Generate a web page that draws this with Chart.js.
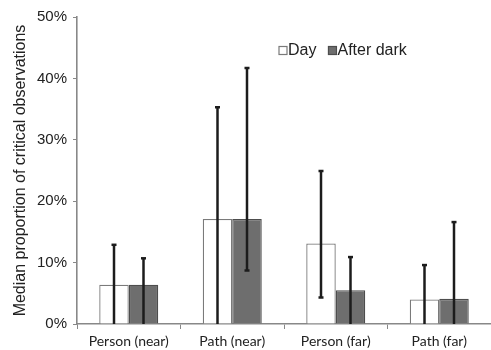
<!DOCTYPE html>
<html>
<head>
<meta charset="utf-8">
<script src="https://cdn.jsdelivr.net/npm/chart.js@4.4.1/dist/chart.umd.min.js"></script>
<style>
  html, body { margin: 0; padding: 0; background: #fff; }
  #wrap { width: 491px; height: 350px; position: relative; }
</style>
</head>
<body>
<div id="wrap"><canvas id="medianChart"></canvas></div>
<script>
// categories and values (percent)
const categories = ["Person (near)", "Path (near)", "Person (far)", "Path (far)"];
const dayMedian = [6.4, 17.1, 13.1, 4.0];
const darkMedian = [6.4, 17.1, 5.5, 4.1];
const dayLow = [0, 0, 4.3, 0];
const dayHigh = [12.9, 35.3, 24.9, 9.6];
const darkLow = [0, 8.7, 0, 0];
const darkHigh = [10.7, 41.7, 10.9, 16.6];
const yTicks = [0, 10, 20, 30, 40, 50];

const errorRanges = [
    { low: dayLow, high: dayHigh },
    { low: darkLow, high: darkHigh }
];

// vertical error bars with small caps
const errorBars = {
    id: "errorBars",
    afterDatasetsDraw(chart) {
        const ctx = chart.ctx;
        const y = chart.scales.y;
        ctx.save();
        ctx.strokeStyle = "#1c1c1c";
        ctx.lineWidth = 2.5;
        chart.data.datasets.forEach((ds, i) => {
            const meta = chart.getDatasetMeta(i);
            meta.data.forEach((bar, j) => {
                const top = y.getPixelForValue(errorRanges[i].high[j]);
                const bottom = y.getPixelForValue(errorRanges[i].low[j]);
                ctx.beginPath();
                ctx.moveTo(bar.x, top);
                ctx.lineTo(bar.x, bottom);
                ctx.stroke();
                ctx.beginPath();
                ctx.moveTo(bar.x - 2.5, top);
                ctx.lineTo(bar.x + 2.5, top);
                if (errorRanges[i].low[j] > 0) {
                    ctx.moveTo(bar.x - 2.5, bottom);
                    ctx.lineTo(bar.x + 2.5, bottom);
                }
                ctx.stroke();
            });
        });
        ctx.restore();
    }
};

// legend drawn inside the plot area
const innerLegend = {
    id: "innerLegend",
    afterDraw(chart) {
        const ctx = chart.ctx;
        ctx.save();
        ctx.font = "16px 'Liberation Sans', Arial, sans-serif";
        ctx.textBaseline = "middle";
        let x = 279;
        const yMid = 50.5;
        chart.data.datasets.forEach((ds) => {
            ctx.fillStyle = ds.backgroundColor;
            ctx.fillRect(x, yMid - 4, 8, 8);
            ctx.strokeStyle = ds.borderColor;
            ctx.lineWidth = 1.2;
            ctx.strokeRect(x, yMid - 4, 8, 8);
            ctx.fillStyle = "#222";
            ctx.fillText(ds.label, x + 9, yMid);
            x += 9 + ctx.measureText(ds.label).width + 12;
        });
        ctx.restore();
    }
};

document.addEventListener("DOMContentLoaded", () => {
    const ctx = document.getElementById("medianChart").getContext("2d");
    new Chart(ctx, {
        type: "bar",
        data: {
            labels: categories,
            datasets: [
                {
                    label: "Day",
                    data: dayMedian,
                    backgroundColor: "#ffffff",
                    borderColor: "#7a7a7a",
                    borderWidth: 1.3
                },
                {
                    label: "After dark",
                    data: darkMedian,
                    backgroundColor: "#6e6e6e",
                    borderColor: "#4d4d4d",
                    borderWidth: 1.3
                }
            ]
        },
        options: {
            responsive: true,
            maintainAspectRatio: false,
            animation: false,
            layout: { padding: { top: 17, right: 0, bottom: 0, left: 0 } },
            datasets: {
                bar: { barPercentage: 1, categoryPercentage: 0.57 }
            },
            plugins: {
                legend: { display: false },
                tooltip: { enabled: false }
            },
            scales: {
                x: {
                    grid: { drawOnChartArea: false, drawTicks: true, tickLength: 5, color: "#888", offset: true },
                    border: { display: true, color: "#888", width: 1.6 },
                    ticks: {
                        color: "#222",
                        padding: 4,
                        font: { family: "Lato, sans-serif", size: 14 }
                    },
                    afterFit(scale) { scale.height = 26; }
                },
                y: {
                    min: 0,
                    max: 50,
                    afterBuildTicks(scale) {
                        scale.ticks = yTicks.map(v => ({ value: v }));
                    },
                    grid: { drawOnChartArea: false, drawTicks: true, tickLength: 4, color: "#888" },
                    border: { display: true, color: "#888", width: 1.6 },
                    ticks: {
                        color: "#222",
                        padding: 6,
                        font: { family: "'Liberation Sans', Arial, sans-serif", size: 15 },
                        callback: (v) => v + "%"
                    },
                    title: {
                        display: true,
                        text: "Median proportion of critical observations",
                        color: "#222",
                        padding: { top: 11, bottom: 0 },
                        font: { family: "'Liberation Sans', Arial, sans-serif", size: 16 }
                    },
                    afterFit(scale) { scale.width = 77; }
                }
            }
        },
        plugins: [errorBars, innerLegend]
    });
});
</script>
</body>
</html>
